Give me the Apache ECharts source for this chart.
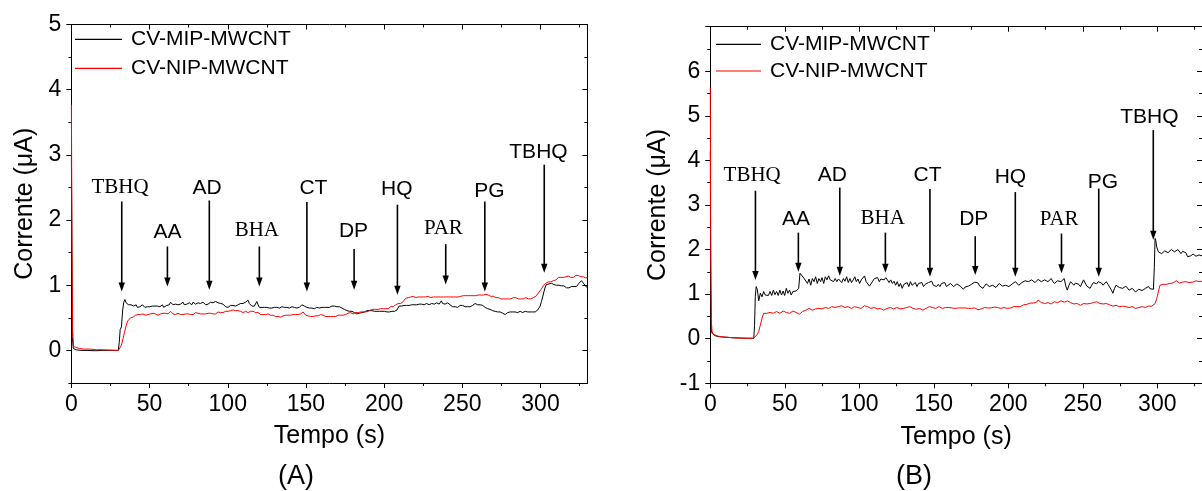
<!DOCTYPE html>
<html>
<head>
<meta charset="utf-8">
<script src="https://cdn.jsdelivr.net/npm/echarts@6/dist/echarts.min.js"></script>
<style>
html,body{margin:0;padding:0;background:#fff;}
#chart{width:1202px;height:491px;}
</style>
</head>
<body>
<div id="chart"></div>
<script>
// ---------------- DATA ----------------
const seriesNames = ['CV-MIP-MWCNT', 'CV-NIP-MWCNT'];
const xTickValues = [0, 50, 100, 150, 200, 250, 300];
const xMinorValues = [25, 75, 125, 175, 225, 275, 325];
const yTicksA = [0, 1, 2, 3, 4, 5];
const yMinorA = [-0.5, 0.5, 1.5, 2.5, 3.5, 4.5];
const yTicksB = [-1, 0, 1, 2, 3, 4, 5, 6, 7];
const yLabelsB = [-1, 0, 1, 2, 3, 4, 5, 6];
const yMinorB = [-0.5, 0.5, 1.5, 2.5, 3.5, 4.5, 5.5, 6.5];

// Panel A, CV-MIP-MWCNT  [time s, current uA]
const mipA = [[0,3.0],[0.6,0.2],[1.2,0.03],[3,0.01],[6,0.0],[10,0.0],[15,-0.005],[20,0.0],[25,0.0],[30,0.0],[30.6,0.12],[31.2,0.32],[32,0.36],[32.8,0.62],[33.5,0.74],[34.2,0.78],[35,0.73],[35.8,0.76],[36.6,0.70],[37.4,0.68],[38.2,0.70],[39,0.71],[39.8,0.68],[40.6,0.67],[41.4,0.70],[42.2,0.66],[43,0.68],[43.8,0.67],[44.6,0.69],[45.4,0.70],[46.2,0.67],[47,0.66],[47.8,0.68],[48.6,0.67],[49.4,0.66],[50.2,0.67],[51,0.69],[51.8,0.68],[52.6,0.67],[53.4,0.68],[54.2,0.66],[55,0.68],[55.8,0.68],[56.6,0.67],[57.4,0.69],[58.2,0.70],[59,0.66],[59.6,0.63],[60.2,0.63],[61,0.69],[61.8,0.71],[62.6,0.70],[63.4,0.74],[64.2,0.72],[65,0.70],[65.8,0.72],[66.6,0.71],[67.4,0.73],[68.2,0.70],[69,0.72],[69.8,0.71],[70.6,0.73],[71.4,0.74],[72.2,0.70],[73,0.72],[73.8,0.71],[74.6,0.70],[75.4,0.73],[76.2,0.72],[77,0.70],[77.8,0.74],[78.6,0.75],[79.4,0.71],[80.2,0.72],[81,0.73],[81.8,0.70],[82.6,0.72],[83.4,0.73],[84.2,0.74],[85,0.71],[85.8,0.70],[86.6,0.72],[87.4,0.71],[88.2,0.73],[89,0.74],[89.8,0.72],[90.6,0.73],[91.4,0.74],[92.2,0.75],[93,0.72],[93.8,0.73],[94.6,0.71],[95.4,0.72],[96.2,0.70],[97,0.71],[97.8,0.69],[98.6,0.67],[99.4,0.65],[100.2,0.66],[101,0.68],[101.8,0.69],[102.6,0.68],[103.4,0.69],[104.2,0.70],[105,0.68],[105.8,0.71],[106.6,0.70],[107.4,0.71],[108.2,0.72],[109,0.70],[109.8,0.72],[110.6,0.73],[111.4,0.74],[112.2,0.75],[113,0.77],[113.8,0.72],[114.6,0.70],[115.4,0.68],[116.2,0.67],[117,0.68],[117.8,0.71],[118.6,0.75],[119.4,0.70],[120.2,0.66],[121,0.65],[121.8,0.66],[122.6,0.67],[123.4,0.66],[124.2,0.67],[125,0.66],[125.8,0.67],[126.6,0.65],[127.4,0.66],[128.2,0.65],[129,0.67],[129.8,0.66],[130.6,0.68],[131.4,0.66],[132.2,0.67],[133,0.65],[133.8,0.66],[134.6,0.67],[135.4,0.65],[136.2,0.66],[137,0.65],[137.8,0.66],[138.6,0.67],[139.4,0.65],[140.2,0.66],[141,0.67],[141.8,0.65],[142.6,0.66],[143.4,0.64],[144.2,0.65],[145,0.67],[145.8,0.66],[146.6,0.68],[147.4,0.70],[148.2,0.71],[149,0.68],[149.8,0.67],[150.6,0.66],[151.4,0.67],[152.2,0.65],[153,0.66],[153.8,0.65],[154.6,0.66],[155.4,0.64],[156.2,0.65],[157,0.66],[157.8,0.64],[158.6,0.65],[159.4,0.67],[160.2,0.66],[161,0.65],[161.8,0.66],[162.6,0.65],[163.4,0.66],[164.2,0.67],[165,0.66],[165.8,0.67],[166.6,0.68],[167.4,0.67],[168.2,0.68],[169,0.68],[169.8,0.67],[170.6,0.66],[171.4,0.67],[172.2,0.66],[173,0.65],[173.8,0.64],[174.6,0.63],[175.4,0.62],[176.2,0.61],[177,0.61],[177.8,0.60],[178.6,0.61],[179.4,0.60],[180.2,0.59],[181,0.58],[181.8,0.59],[182.6,0.56],[183.4,0.55],[184.2,0.57],[185,0.59],[185.8,0.58],[186.6,0.60],[187.4,0.59],[188.2,0.60],[189,0.61],[189.8,0.60],[190.6,0.61],[191.4,0.60],[192.2,0.61],[193,0.62],[193.8,0.60],[194.6,0.61],[195.4,0.60],[196.2,0.61],[197,0.60],[197.8,0.61],[198.6,0.60],[199.4,0.59],[200.2,0.60],[201,0.61],[201.8,0.59],[202.6,0.60],[203.4,0.59],[204.2,0.60],[205,0.60],[205.8,0.61],[206.6,0.60],[207.4,0.61],[208.2,0.62],[209,0.65],[209.6,0.68],[210.4,0.69],[211.2,0.68],[212,0.70],[212.8,0.69],[213.6,0.70],[214.4,0.69],[215.2,0.70],[216,0.69],[216.8,0.71],[217.6,0.70],[218.4,0.72],[219.2,0.70],[220,0.69],[220.8,0.70],[221.6,0.69],[222.4,0.71],[223.2,0.70],[224,0.71],[224.8,0.72],[225.6,0.70],[226.4,0.71],[227.2,0.72],[228,0.71],[228.8,0.70],[229.6,0.71],[230.4,0.72],[231.2,0.70],[232,0.71],[232.8,0.72],[233.6,0.73],[234.4,0.72],[235.2,0.71],[236,0.74],[236.6,0.76],[237.4,0.72],[238.2,0.70],[239,0.71],[239.8,0.72],[240.6,0.73],[241.4,0.71],[242.2,0.70],[243,0.69],[243.8,0.67],[244.6,0.66],[245.4,0.67],[246.2,0.65],[247,0.66],[247.8,0.68],[248.6,0.69],[249.4,0.70],[250.2,0.69],[251,0.68],[251.8,0.67],[252.6,0.68],[253.4,0.67],[254.2,0.68],[255,0.67],[255.8,0.68],[256.6,0.69],[257.4,0.70],[258.2,0.72],[259,0.71],[259.8,0.70],[260.6,0.69],[261.4,0.70],[262.2,0.68],[263,0.69],[263.8,0.67],[264.6,0.66],[265.4,0.65],[266.2,0.64],[267,0.65],[267.8,0.63],[268.6,0.62],[269.4,0.61],[270.2,0.60],[271,0.60],[271.8,0.61],[272.6,0.59],[273.4,0.60],[274.2,0.59],[275,0.58],[275.8,0.57],[276.6,0.56],[277.4,0.55],[278.2,0.57],[279,0.58],[279.8,0.57],[280.6,0.59],[281.4,0.58],[282.2,0.59],[283,0.58],[283.8,0.59],[284.6,0.60],[285.4,0.58],[286.2,0.59],[287,0.60],[287.8,0.59],[288.6,0.58],[289.4,0.59],[290.2,0.60],[291,0.58],[291.8,0.59],[292.6,0.60],[293.4,0.59],[294.2,0.58],[295,0.59],[295.8,0.58],[296.6,0.59],[297.4,0.61],[298.2,0.62],[299,0.64],[299.8,0.68],[300.6,0.75],[301.4,0.82],[302.2,0.90],[303,0.97],[303.8,1.01],[304.6,1.03],[305.4,1.02],[306.2,1.04],[307,1.03],[307.8,1.02],[308.6,1.01],[309.4,1.02],[310.2,1.00],[311,0.99],[311.8,1.00],[312.6,1.01],[313.4,0.99],[314.2,0.98],[315,0.99],[315.8,0.97],[316.6,0.96],[317.4,0.95],[318.2,0.96],[319,0.97],[319.8,0.98],[320.6,0.97],[321.4,0.98],[322.2,0.99],[323,0.98],[323.8,1.00],[324.6,1.03],[325.4,1.05],[326.2,1.07],[327,1.05],[327.8,1.02],[328.6,0.99],[329.4,0.97],[330,0.98]];

// Panel A, CV-NIP-MWCNT
const nipA = [[0,3.77],[0.4,1.5],[0.8,0.3],[1.4,0.06],[2.5,0.04],[5,0.03],[8,0.02],[12,0.02],[16,0.01],[20,0.01],[25,0.005],[30,0.0],[31,0.03],[32,0.08],[33,0.18],[34,0.28],[35,0.38],[36,0.45],[37,0.48],[37.8,0.50],[38.6,0.52],[39.4,0.51],[40.2,0.53],[41,0.54],[41.8,0.52],[42.6,0.55],[43.4,0.56],[44.2,0.55],[45,0.54],[45.8,0.56],[46.6,0.53],[47.4,0.54],[48.2,0.56],[49,0.55],[49.8,0.57],[50.6,0.56],[51.4,0.55],[52.2,0.57],[53,0.58],[53.8,0.56],[54.6,0.55],[55.4,0.54],[56.2,0.55],[57,0.56],[57.8,0.58],[58.6,0.57],[59.4,0.56],[60.2,0.57],[61,0.58],[61.8,0.56],[62.6,0.59],[63.4,0.60],[64.2,0.58],[65,0.56],[65.8,0.57],[66.6,0.55],[67.4,0.56],[68.2,0.57],[69,0.56],[69.8,0.55],[70.6,0.56],[71.4,0.55],[72.2,0.54],[73,0.56],[73.8,0.57],[74.6,0.56],[75.4,0.57],[76.2,0.55],[77,0.56],[77.8,0.55],[78.6,0.56],[79.4,0.58],[80.2,0.56],[81,0.57],[81.8,0.55],[82.6,0.56],[83.4,0.57],[84.2,0.56],[85,0.55],[85.8,0.56],[86.6,0.58],[87.4,0.57],[88.2,0.56],[89,0.57],[89.8,0.55],[90.6,0.56],[91.4,0.57],[92.2,0.56],[93,0.58],[93.8,0.59],[94.6,0.57],[95.4,0.58],[96.2,0.59],[97,0.58],[97.8,0.59],[98.6,0.60],[99.4,0.61],[100.2,0.60],[101,0.62],[101.8,0.61],[102.6,0.60],[103.4,0.62],[104.2,0.63],[105,0.61],[105.8,0.60],[106.6,0.61],[107.4,0.59],[108.2,0.60],[109,0.59],[109.8,0.58],[110.6,0.59],[111.4,0.60],[112.2,0.59],[113,0.58],[113.8,0.59],[114.6,0.60],[115.4,0.61],[116.2,0.60],[117,0.59],[117.8,0.58],[118.6,0.57],[119.4,0.58],[120.2,0.56],[121,0.55],[121.8,0.56],[122.6,0.55],[123.4,0.56],[124.2,0.55],[125,0.57],[125.8,0.56],[126.6,0.55],[127.4,0.54],[128.2,0.55],[129,0.54],[129.8,0.53],[130.6,0.52],[131.4,0.53],[132.2,0.52],[133,0.53],[133.8,0.51],[134.6,0.52],[135.4,0.53],[136.2,0.52],[137,0.54],[137.8,0.55],[138.6,0.54],[139.4,0.53],[140.2,0.54],[141,0.53],[141.8,0.55],[142.6,0.54],[143.4,0.55],[144.2,0.56],[145,0.55],[145.8,0.54],[146.6,0.56],[147.4,0.57],[148.2,0.59],[149,0.56],[149.8,0.54],[150.6,0.55],[151.4,0.53],[152.2,0.54],[153,0.52],[153.8,0.51],[154.6,0.52],[155.4,0.54],[156.2,0.53],[157,0.54],[157.8,0.53],[158.6,0.54],[159.4,0.55],[160.2,0.53],[161,0.54],[161.8,0.53],[162.6,0.52],[163.4,0.51],[164.2,0.52],[165,0.51],[165.8,0.52],[166.6,0.51],[167.4,0.52],[168.2,0.53],[169,0.52],[169.8,0.53],[170.6,0.54],[171.4,0.53],[172.2,0.54],[173,0.55],[173.8,0.54],[174.6,0.56],[175.4,0.55],[176.2,0.56],[177,0.57],[177.8,0.56],[178.6,0.58],[179.4,0.57],[180.2,0.56],[181,0.57],[181.8,0.58],[182.6,0.57],[183.4,0.58],[184.2,0.57],[185,0.59],[185.8,0.58],[186.6,0.59],[187.4,0.60],[188.2,0.59],[189,0.61],[189.8,0.60],[190.6,0.61],[191.4,0.62],[192.2,0.61],[193,0.63],[193.8,0.62],[194.6,0.63],[195.4,0.64],[196.2,0.63],[197,0.65],[197.8,0.64],[198.6,0.63],[199.4,0.64],[200.2,0.65],[201,0.64],[201.8,0.63],[202.6,0.64],[203.4,0.65],[204.2,0.67],[205,0.66],[205.8,0.67],[206.6,0.69],[207.4,0.70],[208.2,0.71],[209,0.72],[209.8,0.73],[210.6,0.72],[211.4,0.73],[212.2,0.75],[213,0.78],[213.8,0.80],[214.6,0.79],[215.4,0.81],[216.2,0.80],[217,0.82],[217.8,0.81],[218.6,0.83],[219.4,0.82],[220.2,0.81],[221,0.83],[221.8,0.82],[222.6,0.81],[223.4,0.82],[224.2,0.83],[225,0.82],[225.8,0.81],[226.6,0.82],[227.4,0.81],[228.2,0.83],[229,0.82],[229.8,0.81],[230.6,0.83],[231.4,0.82],[232.2,0.83],[233,0.82],[233.8,0.81],[234.6,0.82],[235.4,0.83],[236.2,0.82],[237,0.81],[237.8,0.82],[238.6,0.83],[239.4,0.82],[240.2,0.81],[241,0.82],[241.8,0.83],[242.6,0.82],[243.4,0.81],[244.2,0.82],[245,0.83],[245.8,0.82],[246.6,0.83],[247.4,0.82],[248.2,0.84],[249,0.83],[249.8,0.82],[250.6,0.84],[251.4,0.83],[252.2,0.84],[253,0.83],[253.8,0.84],[254.6,0.85],[255.4,0.84],[256.2,0.83],[257,0.84],[257.8,0.85],[258.6,0.84],[259.4,0.86],[260.2,0.85],[261,0.86],[261.8,0.85],[262.6,0.86],[263.4,0.85],[264.2,0.87],[265,0.86],[265.8,0.84],[266.6,0.85],[267.4,0.84],[268.2,0.83],[269,0.84],[269.8,0.83],[270.6,0.82],[271.4,0.81],[272.2,0.82],[273,0.81],[273.8,0.80],[274.6,0.79],[275.4,0.78],[276.2,0.79],[277,0.78],[277.8,0.79],[278.6,0.78],[279.4,0.79],[280.2,0.80],[281,0.79],[281.8,0.80],[282.6,0.81],[283.4,0.80],[284.2,0.81],[285,0.80],[285.8,0.79],[286.6,0.80],[287.4,0.79],[288.2,0.80],[289,0.79],[289.8,0.80],[290.6,0.81],[291.4,0.80],[292.2,0.79],[293,0.80],[293.8,0.79],[294.6,0.80],[295.4,0.81],[296.2,0.82],[297,0.83],[297.8,0.85],[298.6,0.88],[299.4,0.91],[300.2,0.93],[301,0.96],[301.8,0.99],[302.6,1.01],[303.4,1.03],[304.2,1.04],[305,1.05],[305.8,1.06],[306.6,1.05],[307.4,1.06],[308.2,1.07],[309,1.06],[309.8,1.08],[310.6,1.10],[311.4,1.12],[312.2,1.11],[313,1.12],[313.8,1.13],[314.6,1.12],[315.4,1.14],[316.2,1.13],[317,1.15],[317.8,1.14],[318.6,1.13],[319.4,1.12],[320.2,1.11],[321,1.12],[321.8,1.13],[322.6,1.15],[323.4,1.14],[324.2,1.15],[325,1.14],[325.8,1.13],[326.6,1.14],[327.4,1.13],[328.2,1.12],[329,1.11],[330,1.12]];

// Panel B, CV-MIP-MWCNT
const mipB = [[0,4.2],[0.3,1.2],[0.7,0.2],[1.2,0.12],[2,0.09],[3,0.07],[5,0.05],[8,0.04],[12,0.03],[16,0.02],[20,0.015],[25,0.01],[29.2,0.01],[29.7,0.3],[30.2,0.95],[30.8,1.17],[31.6,1.10],[32.5,0.85],[33.6,1.02],[34.7,0.94],[35.8,1.06],[36.9,0.98],[38.0,1.02],[39.0,0.97],[40.1,1.06],[41.2,0.97],[42.3,1.09],[43.4,0.99],[44.5,1.06],[45.6,0.97],[46.7,1.09],[47.8,0.98],[48.9,1.07],[49.9,0.97],[51.0,1.13],[52.1,1.02],[53.2,1.09],[54.3,0.98],[55.4,1.06],[56.5,1.02],[57.6,1.07],[58.7,1.09],[59.3,1.13],[60.2,1.47],[61.5,1.43],[63.0,1.35],[64.1,1.39],[65.2,1.24],[66.3,1.34],[67.4,1.20],[68.5,1.35],[69.6,1.28],[70.7,1.39],[71.8,1.24],[72.9,1.35],[74.0,1.28],[75.0,1.37],[76.1,1.24],[77.2,1.39],[78.3,1.32],[79.4,1.41],[80.5,1.32],[81.6,1.35],[82.7,1.28],[83.8,1.35],[84.9,1.28],[86.0,1.34],[87.1,1.37],[88.2,1.26],[89.3,1.35],[90.4,1.29],[91.5,1.39],[92.6,1.26],[93.7,1.35],[94.8,1.26],[95.9,1.32],[97.0,1.39],[98.0,1.28],[99.1,1.34],[100.2,1.24],[101.3,1.32],[102.4,1.35],[103.5,1.41],[104.6,1.28],[105.7,1.24],[106.8,1.18],[107.9,1.17],[109.0,1.29],[110.1,1.35],[111.2,1.32],[112.3,1.37],[113.4,1.28],[114.5,1.34],[115.6,1.35],[116.7,1.32],[117.8,1.37],[118.9,1.32],[120.0,1.26],[121.1,1.32],[122.2,1.24],[123.3,1.29],[124.4,1.20],[125.5,1.28],[126.6,1.17],[127.7,1.24],[128.8,1.13],[129.9,1.22],[131.0,1.20],[132.1,1.26],[133.2,1.17],[134.3,1.28],[135.4,1.20],[136.5,1.24],[137.6,1.26],[138.7,1.17],[139.8,1.24],[140.9,1.20],[142.0,1.26],[143.1,1.17],[144.2,1.22],[145.3,1.20],[146.4,1.26],[147.5,1.22],[148.6,1.29],[149.7,1.20],[150.8,1.24],[151.9,1.17],[153.0,1.22],[154.1,1.17],[155.2,1.24],[156.3,1.22],[157.4,1.26],[158.5,1.17],[159.6,1.20],[161.2,1.24],[162.2,1.20],[163.3,1.17],[164.4,1.21],[165.5,1.23],[166.6,1.19],[167.7,1.18],[168.8,1.15],[169.9,1.11],[171.0,1.16],[172.1,1.20],[173.2,1.18],[174.2,1.15],[175.3,1.22],[176.4,1.24],[177.5,1.27],[178.6,1.30],[179.7,1.25],[180.8,1.18],[181.9,1.15],[183.0,1.13],[184.0,1.18],[185.1,1.23],[186.2,1.20],[187.3,1.17],[188.4,1.19],[189.5,1.20],[190.6,1.18],[191.7,1.15],[192.8,1.19],[193.9,1.24],[195.0,1.21],[196.0,1.18],[197.1,1.20],[198.2,1.20],[199.3,1.19],[200.4,1.17],[201.5,1.20],[202.6,1.23],[203.7,1.25],[204.8,1.28],[205.9,1.24],[207.0,1.20],[208.1,1.23],[209.1,1.26],[210.2,1.28],[211.3,1.30],[212.4,1.29],[213.5,1.28],[214.6,1.30],[215.7,1.32],[216.8,1.29],[217.9,1.26],[219.0,1.29],[220.0,1.33],[221.1,1.30],[222.2,1.28],[223.3,1.30],[224.4,1.32],[225.5,1.30],[226.6,1.28],[227.7,1.31],[228.8,1.35],[229.8,1.29],[230.9,1.24],[232.0,1.28],[233.1,1.30],[234.2,1.29],[235.3,1.28],[236.4,1.32],[237.5,1.35],[238.6,1.18],[239.6,1.09],[240.7,1.20],[241.8,1.28],[242.9,1.24],[244.0,1.20],[245.1,1.25],[246.2,1.28],[247.3,1.22],[248.4,1.17],[249.5,1.25],[250.5,1.32],[251.6,1.25],[252.7,1.18],[253.8,1.15],[254.9,1.13],[256.0,1.20],[257.1,1.26],[258.2,1.24],[259.3,1.23],[260.3,1.28],[261.4,1.30],[262.5,1.25],[263.6,1.20],[264.7,1.24],[265.8,1.28],[266.9,1.22],[268.0,1.18],[269.1,1.10],[270.2,1.02],[271.2,1.12],[272.3,1.20],[273.4,1.18],[274.5,1.15],[275.6,1.13],[276.7,1.13],[277.8,1.16],[278.9,1.18],[280.0,1.14],[281.1,1.09],[282.2,1.12],[283.2,1.13],[284.3,1.09],[285.4,1.05],[286.5,1.08],[287.6,1.11],[288.7,1.09],[289.8,1.08],[290.9,1.11],[292.0,1.13],[293.1,1.15],[294.1,1.17],[295.2,1.12],[296.3,1.09],[297.4,1.11],[298.0,1.6],[298.5,2.25],[299.0,2.20],[299.6,2.06],[300.7,1.95],[301.8,1.92],[302.9,1.91],[304.0,1.95],[305.0,1.97],[306.1,1.94],[307.2,1.93],[308.3,1.97],[309.4,2.00],[310.5,1.98],[311.6,1.95],[312.7,1.98],[313.8,2.00],[314.9,1.96],[315.9,1.91],[317.0,1.96],[318.1,2.00],[319.2,1.93],[320.3,1.84],[321.4,1.80],[322.5,1.86],[324,1.90],[326,1.85],[328,1.88],[330,1.86]];

// Panel B, CV-NIP-MWCNT
const nipB = [[0,5.64],[0.3,2.0],[0.7,0.4],[1.2,0.15],[2,0.10],[3,0.08],[5,0.06],[8,0.04],[12,0.03],[16,0.02],[20,0.015],[25,0.01],[29,0.01],[30.3,0.03],[31.4,0.09],[32.5,0.16],[33.6,0.31],[34.7,0.46],[35.8,0.57],[36.9,0.59],[38.0,0.57],[39.0,0.58],[40.1,0.59],[41.2,0.57],[42.3,0.57],[43.4,0.59],[44.5,0.61],[45.6,0.58],[46.7,0.57],[47.8,0.60],[48.9,0.62],[49.9,0.60],[51.0,0.59],[52.1,0.58],[53.2,0.57],[54.3,0.60],[55.4,0.62],[56.5,0.60],[57.6,0.59],[58.7,0.57],[59.8,0.55],[60.9,0.58],[61.9,0.61],[63.0,0.62],[64.1,0.64],[65.2,0.66],[66.3,0.68],[67.4,0.66],[68.5,0.64],[69.6,0.66],[70.7,0.67],[71.8,0.65],[72.8,0.68],[73.9,0.67],[75.0,0.67],[76.1,0.68],[77.2,0.70],[78.3,0.69],[79.4,0.68],[80.5,0.70],[81.6,0.72],[82.7,0.70],[83.7,0.70],[84.8,0.71],[85.9,0.72],[87.0,0.70],[88.1,0.74],[89.2,0.71],[90.3,0.70],[91.4,0.69],[92.5,0.72],[93.5,0.70],[94.6,0.68],[95.7,0.70],[96.8,0.72],[97.9,0.70],[99.0,0.70],[100.1,0.69],[101.2,0.68],[102.3,0.70],[103.4,0.74],[104.4,0.71],[105.5,0.72],[106.6,0.70],[107.7,0.68],[108.8,0.67],[109.9,0.70],[111.0,0.68],[112.1,0.67],[113.2,0.66],[114.3,0.68],[115.3,0.66],[116.4,0.64],[117.5,0.66],[118.6,0.68],[119.7,0.67],[120.8,0.70],[121.9,0.68],[123.0,0.67],[124.1,0.69],[125.2,0.70],[126.3,0.68],[127.3,0.67],[128.4,0.69],[129.5,0.68],[130.6,0.69],[131.7,0.70],[132.8,0.71],[133.9,0.72],[135.0,0.70],[136.1,0.68],[137.1,0.67],[138.2,0.66],[139.3,0.67],[140.4,0.68],[141.5,0.67],[142.6,0.64],[143.7,0.66],[144.8,0.68],[145.9,0.70],[147.0,0.72],[148.0,0.75],[149.1,0.70],[150.2,0.68],[151.3,0.68],[152.4,0.70],[153.5,0.72],[154.6,0.70],[155.7,0.68],[156.8,0.72],[157.9,0.70],[159.0,0.68],[160.1,0.70],[161.2,0.70],[162.3,0.69],[163.3,0.66],[164.4,0.68],[165.5,0.70],[166.6,0.69],[167.7,0.68],[168.8,0.69],[169.9,0.70],[171.0,0.69],[172.1,0.67],[173.2,0.68],[174.2,0.66],[175.3,0.68],[176.4,0.70],[177.5,0.69],[178.6,0.66],[179.7,0.65],[180.8,0.64],[181.9,0.67],[183.0,0.68],[184.0,0.70],[185.1,0.70],[186.2,0.69],[187.3,0.68],[188.4,0.69],[189.5,0.70],[190.6,0.71],[191.7,0.72],[192.8,0.70],[193.9,0.69],[195.0,0.68],[196.0,0.68],[197.1,0.70],[198.2,0.70],[199.3,0.68],[200.4,0.67],[201.5,0.69],[202.6,0.70],[203.7,0.72],[204.8,0.73],[205.9,0.72],[207.0,0.70],[208.1,0.72],[209.1,0.75],[210.2,0.76],[211.3,0.75],[212.4,0.77],[213.5,0.79],[214.6,0.80],[215.7,0.81],[216.8,0.80],[217.9,0.78],[219.0,0.82],[220.0,0.87],[221.1,0.83],[222.2,0.81],[223.3,0.80],[224.4,0.79],[225.5,0.80],[226.6,0.81],[227.7,0.79],[228.8,0.78],[229.8,0.80],[230.9,0.83],[232.0,0.81],[233.1,0.81],[234.2,0.83],[235.3,0.85],[236.4,0.83],[237.5,0.82],[238.6,0.84],[239.6,0.85],[240.7,0.82],[241.8,0.81],[242.9,0.79],[244.0,0.78],[245.1,0.79],[246.2,0.79],[247.3,0.77],[248.4,0.75],[249.5,0.77],[250.5,0.79],[251.6,0.78],[252.7,0.78],[253.8,0.77],[254.9,0.79],[256.0,0.80],[257.1,0.81],[258.2,0.82],[259.3,0.83],[260.3,0.80],[261.4,0.79],[262.5,0.78],[263.6,0.78],[264.7,0.79],[265.8,0.79],[266.9,0.77],[268.0,0.76],[269.1,0.74],[270.2,0.73],[271.2,0.74],[272.3,0.75],[273.4,0.73],[274.5,0.72],[275.6,0.73],[276.7,0.73],[277.8,0.72],[278.9,0.72],[280.0,0.71],[281.1,0.70],[282.2,0.71],[283.2,0.72],[284.3,0.70],[285.4,0.68],[286.5,0.69],[287.6,0.70],[288.7,0.71],[289.8,0.72],[290.9,0.71],[292.0,0.70],[293.1,0.72],[294.1,0.73],[295.2,0.73],[296.3,0.73],[297.4,0.76],[298.5,0.79],[299.6,0.90],[300.7,1.05],[301.8,1.20],[302.9,1.24],[304.0,1.22],[305.0,1.20],[306.1,1.22],[307.2,1.26],[308.3,1.24],[309.4,1.23],[310.5,1.25],[311.6,1.28],[312.7,1.30],[313.8,1.28],[314.9,1.25],[315.9,1.24],[317.0,1.27],[318.1,1.30],[319.2,1.28],[320.3,1.28],[321.4,1.26],[322.5,1.29],[324,1.27],[326,1.30],[328,1.28],[330,1.29]];

// Injection annotations (time of addition, arrow top/tip current, label anchor)
const annotNames = ['TBHQ', 'AA', 'AD', 'BHA', 'CT', 'DP', 'HQ', 'PAR', 'PG', 'TBHQ'];
const annotTimeA = [32.2, 61.4, 88.2, 120.2, 150.6, 180.8, 208.5, 239.4, 264.4, 302.4];
const annotTopA = [2.285, 1.595, 2.30, 1.595, 2.275, 1.555, 2.235, 1.63, 2.285, 2.85];
const annotTipA = [0.905, 0.98, 0.93, 0.98, 0.905, 0.93, 0.855, 1.01, 0.905, 1.19];
const annotLabelTimeA = [31.1, 61.4, 86.8, 118.6, 154.8, 180.4, 208.1, 237.9, 267.4, 298.7];
const annotLabelValA = [2.50, 1.81, 2.495, 1.835, 2.495, 1.825, 2.48, 1.865, 2.44, 3.04];

const annotTimeB = [30.3, 59.1, 86.9, 117.5, 147.4, 177.8, 204.7, 235.7, 260.7, 297.3];
const annotTopB = [3.32, 2.38, 3.39, 2.38, 3.36, 2.30, 3.29, 2.36, 3.37, 4.68];
const annotTipB = [1.32, 1.50, 1.41, 1.48, 1.39, 1.43, 1.39, 1.47, 1.39, 2.22];
const annotLabelTimeB = [28.1, 57.5, 81.9, 115.7, 145.8, 176.8, 201.4, 234.1, 263.5, 294.7];
const annotLabelValB = [3.67, 2.68, 3.67, 2.70, 3.67, 2.68, 3.63, 2.68, 3.52, 4.96];

// ---------------- STYLE / BUILD ----------------
const FONT = '"Liberation Sans", Arial, Helvetica, sans-serif';
const SERIF = '"Liberation Serif", "Times New Roman", serif';
const serifLabel = [true, false, false, true, false, false, false, true, false, false];

function xAxesFor(g) {
  const base = {
    type: 'value', gridIndex: g, min: 0, max: 330,
    splitLine: { show: false },
    axisLine: { show: true, onZero: false, lineStyle: { color: '#000', width: 1 } }
  };
  return [
    Object.assign({}, base, {
      position: 'bottom',
      axisTick: { show: true, inside: false, length: 5, customValues: xTickValues, lineStyle: { color: '#000', width: 1 } },
      axisLabel: { show: true, customValues: xTickValues, color: '#000', fontSize: 23, fontFamily: FONT, margin: 10 },
      name: 'Tempo (s)', nameLocation: 'middle', nameGap: 41,
      nameTextStyle: { color: '#000', fontSize: 25, fontFamily: FONT }
    }),
    Object.assign({}, base, {
      position: 'bottom', axisLine: { show: false, onZero: false },
      axisTick: { show: true, inside: false, length: 3, customValues: xMinorValues, lineStyle: { color: '#000', width: 1 } },
      axisLabel: { show: false }
    }),
    Object.assign({}, base, {
      position: 'top',
      axisTick: { show: true, inside: true, length: 5, customValues: xTickValues, lineStyle: { color: '#000', width: 1 } },
      axisLabel: { show: false }
    }),
    Object.assign({}, base, {
      position: 'top', axisLine: { show: false, onZero: false },
      axisTick: { show: true, inside: true, length: 3, customValues: xMinorValues, lineStyle: { color: '#000', width: 1 } },
      axisLabel: { show: false }
    })
  ];
}

function yAxesFor(g, ymin, ymax, ticks, labels, minor, nameGap) {
  const base = {
    type: 'value', gridIndex: g, min: ymin, max: ymax,
    splitLine: { show: false },
    axisLine: { show: true, onZero: false, lineStyle: { color: '#000', width: 1 } }
  };
  return [
    Object.assign({}, base, {
      position: 'left',
      axisTick: { show: true, inside: false, length: 5, customValues: ticks, lineStyle: { color: '#000', width: 1 } },
      axisLabel: { show: true, customValues: labels, color: '#000', fontSize: 23, fontFamily: FONT, margin: 10 },
      name: 'Corrente (\u03bcA)', nameLocation: 'middle', nameGap: nameGap,
      nameTextStyle: { color: '#000', fontSize: 25, fontFamily: FONT }
    }),
    Object.assign({}, base, {
      position: 'left', axisLine: { show: false, onZero: false },
      axisTick: { show: true, inside: false, length: 3, customValues: minor, lineStyle: { color: '#000', width: 1 } },
      axisLabel: { show: false }
    }),
    Object.assign({}, base, {
      position: 'right',
      axisTick: { show: true, inside: true, length: 5, customValues: ticks, lineStyle: { color: '#000', width: 1 } },
      axisLabel: { show: false }
    }),
    Object.assign({}, base, {
      position: 'right', axisLine: { show: false, onZero: false },
      axisTick: { show: true, inside: true, length: 3, customValues: minor, lineStyle: { color: '#000', width: 1 } },
      axisLabel: { show: false }
    })
  ];
}

function annotData(t, top, tip, lt, lv) {
  return t.map((v, i) => [v, top[i], tip[i], lt[i], lv[i]]);
}

function arrowRenderer(params, api) {
  const i = params.dataIndex;
  const a = api.coord([api.value(0), api.value(1)]);
  const b = api.coord([api.value(0), api.value(2)]);
  const l = api.coord([api.value(3), api.value(4)]);
  const head = 9, hw = 3.2;
  return {
    type: 'group',
    children: [
      { type: 'line', shape: { x1: a[0], y1: a[1], x2: b[0], y2: b[1] - head + 1 },
        style: { stroke: '#000', lineWidth: 1.6 } },
      { type: 'polygon', shape: { points: [[b[0] - hw, b[1] - head], [b[0] + hw, b[1] - head], [b[0], b[1]]] },
        style: { fill: '#000' } },
      { type: 'text', x: l[0], y: l[1],
        style: { text: annotNames[i], fill: '#000', fontSize: 21,
                 fontFamily: serifLabel[i] ? SERIF : FONT, align: 'center', verticalAlign: 'middle' } }
    ]
  };
}

function lineSeries(name, data, color, xi, yi) {
  return {
    name: name, type: 'line', data: data, xAxisIndex: xi, yAxisIndex: yi,
    showSymbol: false, symbol: 'none', smooth: false,
    lineStyle: { color: color, width: 1 }, itemStyle: { color: color },
    emphasis: { disabled: true }, clip: true, z: 2
  };
}

function legendFor(left, top, itemWidth, gap) {
  return {
    orient: 'vertical', left: left, top: top, padding: 0,
    icon: 'rect', itemWidth: itemWidth, itemHeight: 1.2, itemGap: gap,
    selectedMode: false,
    data: seriesNames,
    textStyle: { color: '#000', fontSize: 21, fontFamily: FONT, padding: [0, 0, 0, 4] }
  };
}

const chart = echarts.init(document.getElementById('chart'), null, { renderer: 'canvas' });
chart.setOption({
  animation: false,
  backgroundColor: '#fff',
  grid: [
    { left: 71.4, top: 24.5, width: 516, height: 358.5 },
    { left: 710.3, top: 26.7, width: 504.6, height: 356.6 }
  ],
  xAxis: xAxesFor(0).concat(xAxesFor(1)),
  yAxis: yAxesFor(0, -0.5, 5, yTicksA, yTicksA, yMinorA, 34)
          .concat(yAxesFor(1, -1, 7, yTicksB, yLabelsB, yMinorB, 40)),
  legend: [
    legendFor(75, 28.8, 47, 8),
    legendFor(716, 33.8, 45, 5.7)
  ],
  series: [
    lineSeries(seriesNames[0], mipA, '#000000', 0, 0),
    lineSeries(seriesNames[1], nipA, '#ff0000', 0, 0),
    lineSeries(seriesNames[0], mipB, '#000000', 4, 4),
    lineSeries(seriesNames[1], nipB, '#ff0000', 4, 4),
    { type: 'custom', xAxisIndex: 0, yAxisIndex: 0, renderItem: arrowRenderer, clip: false, z: 5,
      data: annotData(annotTimeA, annotTopA, annotTipA, annotLabelTimeA, annotLabelValA),
      encode: { x: 0, y: 1 }, silent: true },
    { type: 'custom', xAxisIndex: 4, yAxisIndex: 4, renderItem: arrowRenderer, clip: false, z: 5,
      data: annotData(annotTimeB, annotTopB, annotTipB, annotLabelTimeB, annotLabelValB),
      encode: { x: 0, y: 1 }, silent: true }
  ],
  graphic: [
    { type: 'text', x: 296, y: 477, style: { text: '(A)', fill: '#000', fontSize: 27, fontFamily: FONT, align: 'center', verticalAlign: 'middle' } },
    { type: 'text', x: 914, y: 477, style: { text: '(B)', fill: '#000', fontSize: 27, fontFamily: FONT, align: 'center', verticalAlign: 'middle' } }
  ]
});
</script>
</body>
</html>
